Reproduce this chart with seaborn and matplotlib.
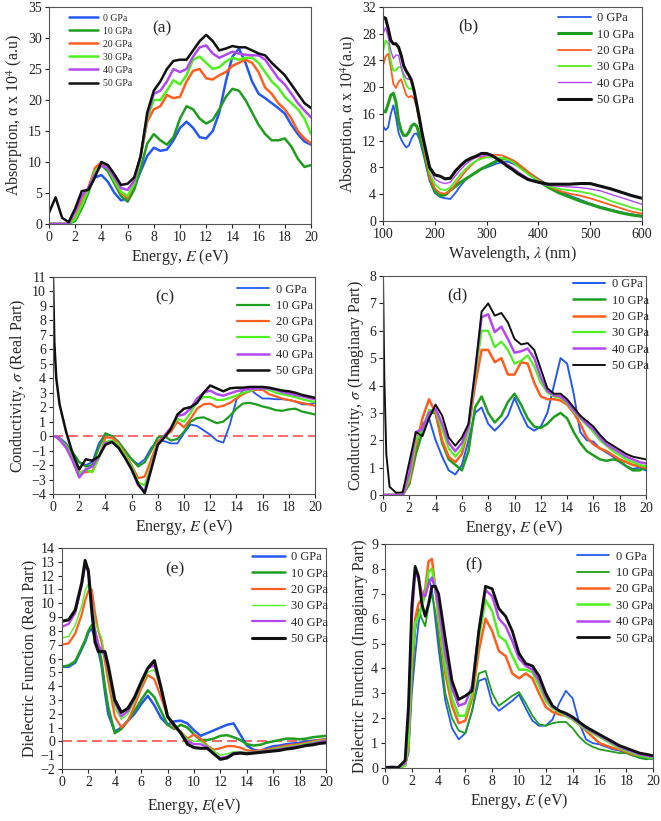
import numpy as np
import pandas as pd
import matplotlib
matplotlib.use("Agg")
import matplotlib.pyplot as plt
import seaborn as sns

sns.set_theme(style="ticks")
plt.rcParams["font.family"] = ["Liberation Serif", "DejaVu Serif"]
plt.rcParams["mathtext.fontset"] = "stix"

LABELS = ["0 GPa", "10 GPa", "20 GPa", "30 GPa", "40 GPa", "50 GPa"]
COLORS = ["#2458f0", "#1e9e1e", "#ff5e1f", "#4ff020", "#b347f2", "#101010"]

# ---------------- (a) absorption vs energy ----------------
E_A = [0, 0.5, 1, 1.5, 2, 2.5, 3, 3.5, 4, 4.5, 5, 5.5, 6, 6.5, 7, 7.5, 8, 8.5, 9, 9.5, 10,
       10.5, 11, 11.5, 12, 12.5, 13, 13.5, 14, 14.5, 15, 15.5, 16, 16.5, 17, 17.5, 18, 18.5, 19, 19.5, 20]
a_0 = [0, 0, 0, 0, 0.8, 3.3, 5.5, 7.5, 7.9, 6.8, 5.0, 3.8, 4.2, 6.0, 8.5, 11.0, 12.3, 11.8, 12.0, 13.5, 15.5,
       16.5, 15.5, 14.0, 13.8, 15.0, 18.0, 23.0, 27.0, 28.3, 26.0, 23.0, 21.0, 20.3, 19.5, 18.7, 17.8, 16.0, 14.5, 13.3, 12.8]
a_10 = [0, 0, 0, 0, 0.5, 2.5, 5.0, 8.0, 9.5, 8.5, 6.5, 4.5, 3.6, 5.5, 9.0, 13.0, 14.5, 13.5, 12.8, 14.0, 17.0,
        19.0, 18.5, 17.0, 16.2, 16.8, 18.5, 20.5, 21.8, 21.5, 20.0, 18.0, 16.0, 14.5, 13.5, 13.5, 13.8, 12.5, 10.5, 9.2, 9.5]
a_20 = [0, 0, 0, 0, 1.0, 3.5, 5.8, 9.0, 10.0, 9.0, 7.0, 5.0, 4.2, 6.5, 11.0, 16.5, 18.5, 19.0, 20.8, 20.3, 20.5,
        23.0, 24.7, 25.0, 23.5, 23.3, 24.0, 24.5, 25.5, 26.0, 26.5, 26.0, 24.5, 22.0, 21.0, 19.5, 18.5, 17.0, 15.0, 13.8, 13.0]
a_30 = [0, 0, 0, 0, 0.8, 3.0, 5.5, 8.5, 9.5, 9.0, 7.0, 5.2, 4.5, 6.5, 11.0, 17.0, 20.0, 20.0, 21.5, 23.2, 22.5,
        24.0, 26.5, 27.0, 26.0, 25.0, 25.3, 26.2, 26.8, 26.5, 26.8, 26.8, 26.0, 24.5, 23.0, 22.0, 20.5, 19.5, 18.5, 17.0, 14.5]
a_40 = [0, 0, 0, 0, 2.0, 4.5, 5.8, 8.0, 9.5, 9.0, 7.5, 5.8, 5.5, 7.0, 11.0, 17.5, 21.0, 21.5, 23.0, 25.0, 24.5,
        25.0, 27.0, 28.5, 28.8, 27.5, 26.8, 27.3, 27.8, 27.5, 27.3, 27.2, 27.2, 26.5, 25.0, 23.5, 22.5, 21.0, 19.5, 18.3, 17.2]
a_50 = [1.8, 4.3, 1.0, 0.3, 2.5, 5.3, 5.5, 7.5, 10.0, 9.5, 8.0, 6.3, 6.5, 7.5, 11.0, 18.0, 21.5, 23.0, 25.0, 26.3, 26.5,
        26.5, 28.0, 29.5, 30.5, 29.5, 28.0, 28.3, 28.7, 28.5, 28.5, 28.0, 27.5, 27.2, 26.0, 25.0, 24.0, 22.5, 21.0, 19.5, 18.7]

# ---------------- (b) absorption vs wavelength ----------------
LAM = [100, 105, 110, 115, 120, 125, 130, 135, 140, 145, 150, 155, 160, 165, 170, 175, 180,
       190, 200, 210, 220, 230, 240, 250, 260, 270, 280, 290, 300, 310, 320, 330, 340, 350, 360,
       380, 400, 420, 440, 460, 480, 500, 520, 540, 560, 580, 600]
b_0 = [14.2, 13.6, 14.0, 16.0, 17.3, 15.5, 13.2, 12.2, 11.5, 11.0, 11.3, 12.3, 13.0, 13.1, 12.3, 10.8, 9.3,
       6.0, 4.2, 3.6, 3.4, 3.3, 4.2, 5.3, 6.2, 6.8, 7.3, 7.8, 8.0, 8.3, 8.6, 8.8, 8.9, 8.6, 8.2,
       7.3, 6.3, 5.3, 4.5, 3.8, 3.2, 2.6, 2.1, 1.7, 1.3, 1.0, 0.8]
b_10 = [16.5, 16.3, 17.5, 18.8, 19.1, 17.8, 15.0, 13.5, 12.8, 12.8, 13.3, 14.2, 14.5, 14.2, 13.0, 11.5, 10.0,
        6.5, 4.5, 3.8, 3.9, 4.6, 5.2, 5.8, 6.3, 6.8, 7.3, 7.8, 8.2, 8.6, 9.0, 9.3, 9.3, 9.0, 8.5,
        7.2, 6.0, 5.0, 4.2, 3.6, 3.0, 2.5, 2.0, 1.6, 1.2, 0.9, 0.7]
b_20 = [23.2, 24.6, 25.0, 23.0, 20.5, 19.9, 20.8, 21.2, 20.0, 18.8, 18.5, 18.7, 18.3, 17.0, 14.8, 12.5, 10.5,
        6.5, 4.9, 4.2, 4.1, 4.5, 5.5, 6.5, 7.5, 8.3, 9.0, 9.5, 9.8, 9.9, 9.9, 9.8, 9.5, 9.1, 8.6,
        7.4, 6.2, 5.2, 4.5, 4.1, 3.8, 3.4, 2.9, 2.4, 1.9, 1.4, 1.1]
b_30 = [25.3, 27.0, 26.5, 24.0, 22.5, 22.5, 23.0, 23.0, 21.5, 20.3, 19.8, 19.8, 19.5, 17.5, 15.0, 12.8, 11.0,
        7.2, 5.5, 4.8, 4.6, 5.0, 6.0, 7.0, 7.8, 8.5, 9.0, 9.3, 9.5, 9.5, 9.5, 9.4, 9.2, 8.8, 8.2,
        7.0, 6.0, 5.2, 4.8, 4.6, 4.4, 4.1, 3.6, 3.0, 2.5, 2.0, 1.6]
b_40 = [28.0, 28.9, 27.5, 25.5, 24.3, 24.8, 24.8, 23.0, 22.0, 21.3, 21.2, 21.3, 19.5, 17.5, 15.5, 13.0, 11.3,
        7.8, 6.3, 5.8, 5.6, 5.8, 6.8, 7.7, 8.5, 9.1, 9.5, 9.7, 9.8, 9.7, 9.4, 9.0, 8.5, 8.0, 7.4,
        6.4, 5.7, 5.3, 5.2, 5.1, 5.0, 4.8, 4.5, 4.0, 3.5, 3.0, 2.5]
b_50 = [30.5, 30.3, 28.8, 27.0, 26.5, 26.5, 26.0, 24.8, 23.2, 22.4, 21.8, 21.0, 19.5, 17.5, 15.5, 13.3, 11.5,
        8.0, 6.9, 6.7, 6.3, 6.4, 7.5, 8.3, 9.0, 9.4, 9.7, 10.1, 10.1, 9.8, 9.3, 8.8, 8.2, 7.7, 7.1,
        6.2, 5.8, 5.5, 5.5, 5.5, 5.6, 5.6, 5.2, 4.8, 4.3, 3.8, 3.4]

# ---------------- (c) conductivity real / (d) imaginary ----------------
E_CD = [0, 0.1, 0.25, 0.5, 1, 1.5, 2, 2.5, 3, 3.5, 4, 4.5, 5, 5.5, 6, 6.5, 7, 7.5, 8, 8.5, 9, 9.5, 10,
        10.5, 11, 11.5, 12, 12.5, 13, 13.5, 14, 14.5, 15, 15.5, 16, 16.5, 17, 17.5, 18, 18.5, 19, 19.5, 20]
c_0 = [0, 0, -0.02, -0.1, -0.5, -1.2, -1.8, -2.0, -1.8, -0.5, 0.15, 0.0, -0.4, -1.0, -1.6, -1.95, -1.6, -0.8, -0.3,
       -0.35, -0.5, -0.5, 0.2, 0.8, 0.7, 0.4, 0.1, -0.3, -0.45, 0.8, 2.5, 3.2, 3.3, 2.9, 2.6, 2.6, 2.55, 2.55, 2.5,
       2.4, 2.2, 2.2, 2.3]
c_10 = [0, 0, -0.05, -0.2, -0.6, -1.1, -1.8, -2.1, -2.0, -0.8, 0.2, 0.0, -0.4, -1.0, -1.6, -2.1, -1.8, -1.0, -0.1,
        0.0, -0.3, -0.2, 0.3, 1.0, 1.25, 1.3, 1.1, 0.9, 1.0, 1.4, 1.9, 2.25, 2.3, 2.2, 2.05, 1.95, 1.8, 1.75, 1.85,
        1.9, 1.7, 1.6, 1.5]
c_20 = [0, 0, -0.05, -0.2, -0.7, -1.5, -2.5, -2.5, -2.4, -1.5, -0.1, -0.1, -0.5, -1.2, -2.0, -2.9, -2.8, -1.6, -0.4,
        0.0, 0.3, 1.0, 0.6, 1.2, 1.9, 2.2, 2.25, 2.0, 2.1, 2.3, 2.6, 2.9, 3.1, 3.2, 3.2, 2.9, 2.75, 2.6, 2.5,
        2.4, 2.3, 2.2, 2.1]
c_30 = [0, 0, -0.05, -0.2, -0.7, -1.5, -2.6, -2.3, -2.5, -1.5, -0.4, -0.3, -0.6, -1.3, -2.1, -3.2, -3.4, -2.0, -0.6,
        0.0, 0.5, 1.2, 1.0, 1.6, 2.4, 2.7, 2.7, 2.5, 2.5, 2.65, 2.8, 3.0, 3.1, 3.3, 3.3, 3.2, 3.0, 2.9, 2.8,
        2.7, 2.55, 2.45, 2.35]
c_40 = [0, 0, -0.05, -0.25, -0.8, -1.7, -2.85, -2.3, -2.1, -1.4, -0.5, -0.4, -0.8, -1.5, -2.3, -3.4, -3.8, -2.2, -0.6,
        0.0, 0.6, 1.4, 1.5, 1.9, 2.6, 3.0, 3.15, 2.9, 2.8, 2.95, 3.1, 3.2, 3.25, 3.3, 3.3, 3.3, 3.2, 3.05, 2.95,
        2.85, 2.75, 2.65, 2.55]
c_50 = [11.0, 6.5, 4.0, 2.2, 0.3, -1.2, -2.3, -1.6, -1.7, -1.4, -0.6, -0.4, -0.8, -1.5, -2.3, -3.3, -3.95, -2.3, -0.6,
        -0.1, 0.5, 1.5, 1.9, 2.0, 2.3, 3.0, 3.5, 3.3, 3.1, 3.3, 3.35, 3.35, 3.4, 3.4, 3.4, 3.35, 3.25, 3.15, 3.1,
        3.0, 2.85, 2.75, 2.65]

d_0 = [0, 0, 0, 0, 0, 0, 0.5, 1.8, 2.6, 2.8, 2.0, 1.4, 0.9, 0.75, 1.1, 2.0, 3.0, 3.2, 2.6, 2.35, 2.6, 2.9, 3.55,
       3.0, 2.5, 2.35, 2.5, 3.0, 4.0, 5.0, 4.8, 3.7, 2.3, 2.0, 1.95, 1.7, 1.55, 1.4, 1.2, 1.05, 0.95, 1.0, 0.9]
d_10 = [0, 0, 0, 0, 0, 0, 0.4, 1.5, 2.3, 3.0, 3.0, 1.9, 1.3, 1.1, 0.9, 1.6, 3.2, 3.6, 3.0, 2.65, 2.9, 3.4, 3.7,
        3.3, 2.8, 2.5, 2.45, 2.6, 2.85, 3.0, 2.8, 2.3, 1.9, 1.6, 1.45, 1.3, 1.25, 1.3, 1.25, 1.05, 0.9, 0.9, 1.0]
d_20 = [0, 0, 0, 0, 0, 0, 0.5, 1.8, 2.8, 3.5, 3.0, 2.0, 1.4, 1.2, 1.5, 2.4, 4.0, 5.3, 5.3, 4.85, 5.0, 4.4, 4.4,
        4.85, 4.8, 4.1, 3.6, 3.5, 3.5, 3.45, 3.3, 3.0, 2.6, 2.1, 1.85, 1.7, 1.6, 1.45, 1.3, 1.2, 1.1, 1.05, 1.0]
d_30 = [0, 0, 0, 0, 0, 0, 0.6, 2.0, 2.4, 3.1, 3.1, 2.4, 1.7, 1.4, 1.7, 2.4, 4.3, 6.0, 6.0, 5.4, 5.6, 5.3, 4.8,
        4.9, 5.1, 4.7, 4.1, 3.75, 3.6, 3.55, 3.35, 3.05, 2.8, 2.55, 2.3, 2.0, 1.8, 1.6, 1.45, 1.3, 1.2, 1.1, 1.05]
d_40 = [0, 0, 0, 0, 0, 0, 0.8, 2.3, 2.4, 3.0, 3.15, 2.6, 1.9, 1.6, 1.9, 2.5, 4.5, 6.5, 6.6, 5.95, 6.15, 5.7, 5.2,
        5.25, 5.35, 5.0, 4.3, 3.8, 3.65, 3.6, 3.4, 3.1, 2.85, 2.6, 2.4, 2.1, 1.85, 1.7, 1.55, 1.4, 1.3, 1.2, 1.15]
d_50 = [8.0, 4.3, 1.5, 0.3, 0.08, 0.1, 1.2, 2.3, 2.15, 2.8, 3.3, 2.9, 2.1, 1.8, 2.1, 2.6, 4.5, 6.7, 7.0, 6.55, 6.65,
        6.3, 5.7, 5.5, 5.55, 5.3, 4.6, 3.9, 3.7, 3.7, 3.5, 3.2, 2.9, 2.7, 2.5, 2.2, 1.95, 1.8, 1.65, 1.5, 1.4, 1.35, 1.3]

# ---------------- (e) dielectric real ----------------
E_E = [0, 0.5, 1, 1.5, 1.75, 2, 2.25, 2.5, 2.75, 3, 3.25, 3.5, 4, 4.5, 5, 5.5, 6, 6.5, 7, 7.5, 8, 8.5, 9, 9.5,
       10, 10.5, 11, 11.5, 12, 12.5, 13, 13.5, 14, 14.5, 15, 15.5, 16, 16.5, 17, 17.5, 18, 18.5, 19, 19.5, 20]
e_0 = [5.4, 5.4, 5.7, 6.7, 7.2, 7.9, 8.2, 7.5, 6.6, 5.5, 3.6, 2.0,
       0.7, 1.0, 1.5, 2.0, 2.7, 3.3, 2.6, 1.7, 1.2, 1.45, 1.5, 1.3, 0.8, 0.4, 0.6, 0.8, 1.0, 1.2, 1.3, 0.5, -0.3,
       -0.6, -0.7, -0.5, -0.35, -0.3, -0.2, -0.15, -0.1, 0.0, 0.05, 0.1, 0.15]
e_10 = [5.4, 5.5, 5.8, 6.8, 7.3, 8.0, 8.4, 8.0, 7.0, 5.8, 4.0, 2.5,
        0.6, 0.9, 1.5, 2.2, 3.0, 3.7, 3.2, 2.2, 1.2, 0.9, 1.2, 1.0, 0.5, 0.1, 0.1, 0.2, 0.4, 0.45, 0.3, 0.1, -0.2,
        -0.3, -0.25, -0.1, 0.0, 0.1, 0.2, 0.2, 0.15, 0.2, 0.3, 0.35, 0.4]
e_20 = [7.0, 7.1, 7.8, 9.2, 10.2, 10.9, 11.0, 9.3, 8.0, 7.2, 5.8, 4.4,
        1.8, 1.0, 1.5, 2.6, 3.8, 4.8, 4.5, 3.2, 1.8, 1.0, 0.7, 0.2, 0.5, 0.2, -0.3, -0.6, -0.5, -0.35, -0.35, -0.45,
        -0.65, -0.7, -0.65, -0.6, -0.5, -0.4, -0.3, -0.25, -0.2, -0.1, 0.0, 0.1, 0.15]
e_30 = [7.5, 7.6, 8.4, 9.8, 10.9, 11.4, 10.2, 8.8, 8.0, 7.5, 6.2, 4.8,
        2.4, 1.6, 2.0, 2.9, 4.0, 5.0, 5.2, 3.7, 1.8, 1.1, 0.7, 0.2, 0.0, 0.0, -0.3, -0.7, -1.0, -0.9, -0.75, -0.75,
        -0.8, -0.75, -0.7, -0.65, -0.55, -0.45, -0.4, -0.3, -0.25, -0.15, -0.05, 0.05, 0.1]
e_40 = [8.3, 8.5, 9.3, 11.3, 12.7, 12.5, 10.0, 8.0, 7.0, 6.6, 6.2, 5.2,
        2.8, 1.8, 2.2, 3.1, 4.2, 5.3, 5.5, 3.8, 1.8, 1.1, 0.6, 0.0, -0.2, -0.2, -0.4, -0.9, -1.2, -1.1, -0.85, -0.8,
        -0.85, -0.8, -0.75, -0.7, -0.65, -0.55, -0.5, -0.4, -0.35, -0.25, -0.15, -0.05, 0.05]
e_50 = [8.7, 8.8, 9.5, 11.5, 13.1, 12.3, 9.5, 7.2, 6.5, 6.5, 6.5, 5.5,
        3.0, 2.1, 2.4, 3.2, 4.3, 5.3, 5.85, 3.9, 1.8, 1.2, 0.6, -0.2, -0.45, -0.5, -0.5, -0.9, -1.3, -1.2, -0.9,
        -0.85, -0.9, -0.85, -0.8, -0.75, -0.7, -0.65, -0.55, -0.5, -0.4, -0.3, -0.25, -0.15, -0.1]

# ---------------- (f) dielectric imaginary ----------------
E_F = [0, 0.5, 1, 1.5, 1.75, 2, 2.25, 2.5, 2.75, 3, 3.25, 3.5, 3.75, 4, 4.5, 5, 5.5, 6, 6.5, 7, 7.5, 8, 8.5, 9,
       9.5, 10, 10.5, 11, 11.5, 12, 12.5, 13, 13.5, 14, 14.5, 15, 15.5, 16, 16.5, 17, 17.5, 18, 18.5, 19, 19.5, 20]
f_0 = [0.02, 0.06, 0.03, 0.1, 0.6, 3.0, 4.5, 5.8, 6.6, 7.2, 7.6, 7.2, 6.0,
       4.8, 2.7, 1.6, 1.15, 1.4, 2.3, 3.5, 3.6, 2.6, 2.3, 2.5, 2.7, 2.95, 2.4, 1.9, 1.7, 1.7, 1.95, 2.6, 3.1,
       2.8, 1.8, 1.15, 1.0, 0.95, 0.85, 0.75, 0.7, 0.6, 0.5, 0.45, 0.4, 0.35]
f_10 = [0, 0, 0, 0.1, 0.7, 3.5, 5.5, 6.4, 6.0, 5.7, 6.5, 7.0, 6.3,
        5.3, 3.0, 2.0, 1.5, 1.4, 2.3, 3.8, 3.9, 3.0, 2.5, 2.7, 2.9, 3.05, 2.6, 2.1, 1.75, 1.7, 1.8, 1.85, 1.85,
        1.6, 1.25, 1.0, 0.85, 0.75, 0.7, 0.65, 0.6, 0.6, 0.5, 0.4, 0.35, 0.4]
f_20 = [0, 0, 0, 0.1, 0.8, 4.0, 6.0, 6.6, 6.8, 7.2, 8.3, 8.4, 7.3,
        6.0, 3.8, 2.5, 1.8, 1.9, 2.8, 4.7, 6.0, 5.5, 4.7, 4.5, 3.8, 3.6, 3.8, 3.6, 3.0, 2.45, 2.25, 2.15, 2.1,
        1.95, 1.75, 1.5, 1.25, 1.0, 0.9, 0.8, 0.75, 0.65, 0.55, 0.5, 0.45, 0.4]
f_30 = [0, 0, 0, 0.1, 1.0, 4.5, 5.8, 6.1, 6.5, 7.0, 7.9, 8.0, 7.3,
        6.2, 4.1, 2.8, 2.1, 2.1, 3.0, 5.2, 6.75, 6.3, 5.3, 5.1, 4.5, 3.95, 3.95, 3.85, 3.3, 2.7, 2.4, 2.25, 2.1,
        1.95, 1.75, 1.55, 1.4, 1.25, 1.1, 0.95, 0.8, 0.7, 0.6, 0.5, 0.45, 0.4]
f_40 = [0.03, 0.03, 0.03, 0.2, 2.0, 6.0, 7.9, 7.6, 7.0, 6.9, 7.4, 7.65, 7.2,
        6.5, 4.6, 3.2, 2.5, 2.6, 3.3, 5.5, 7.15, 6.9, 6.0, 5.7, 5.1, 4.4, 4.1, 3.95, 3.5, 2.85, 2.45, 2.3, 2.15,
        2.0, 1.8, 1.6, 1.45, 1.3, 1.15, 1.0, 0.85, 0.75, 0.65, 0.55, 0.5, 0.45]
f_50 = [0.03, 0.03, 0.03, 0.3, 2.5, 6.5, 8.1, 7.7, 6.6, 6.1, 6.6, 7.3, 7.3,
        7.0, 5.2, 3.5, 2.75, 2.9, 3.1, 5.5, 7.3, 7.2, 6.4, 6.1, 5.5, 4.6, 4.2, 4.1, 3.7, 3.0, 2.5, 2.3, 2.2,
        2.05, 1.85, 1.65, 1.5, 1.35, 1.2, 1.05, 0.9, 0.8, 0.7, 0.6, 0.55, 0.5]

W, H = 661, 821
fig = plt.figure(figsize=(W / 100, H / 100), dpi=100)


def mkax(l, t, r, b):
    return fig.add_axes([l / W, 1 - b / H, (r - l) / W, (b - t) / H])


def draw(ax, x, ys, widths):
    for lab, y, c, lw in zip(LABELS, ys, COLORS, widths):
        df = pd.DataFrame({"x": x, "y": y})
        sns.lineplot(data=df, x="x", y="y", ax=ax, color=c, linewidth=lw,
                     label=lab, sort=False, estimator=None)


def style(ax, xlim, xticks, ylim, yticks, xlabel, ylabel, tag, tagpos, legpos,
          ylpad=2, xlpad=2, legsp=0.35, legfs=9, leghl=2.6):
    ax.set_xlim(*xlim)
    ax.set_ylim(*ylim)
    ax.set_xticks(xticks)
    ax.set_yticks(yticks)
    ax.tick_params(direction="out", length=3, width=0.8, labelsize=10, pad=2,
                   colors="#222222")
    for s in ax.spines.values():
        s.set_linewidth(0.8)
        s.set_color("#555555")
    ax.set_xlabel(xlabel, fontsize=11.5, labelpad=xlpad)
    ax.set_ylabel(ylabel, fontsize=11.5, labelpad=ylpad)
    ax.text(tagpos[0], tagpos[1], tag, transform=ax.transAxes, fontsize=12.5,
            ha="center", va="center")
    ax.legend(loc="upper left", bbox_to_anchor=legpos, frameon=False,
              fontsize=legfs, handlelength=leghl, handletextpad=0.5,
              labelspacing=legsp, borderpad=0, borderaxespad=0)


# (a)
axa = mkax(49, 7, 311, 224)
draw(axa, E_A, [a_0, a_10, a_20, a_30, a_40, a_50], [1.8] * 6)
style(axa, (0, 20), range(0, 21, 2), (0, 35), range(0, 36, 5),
      "Energy, $E$ (eV)", "Absorption, α x 10$^4$ (a.u)", "(a)", (0.43, 0.9),
      (0.076, 0.97), legsp=0.42, legfs=7, leghl=3.0)

# (b)
axb = mkax(383, 7, 642, 221)
draw(axb, LAM, [b_0, b_10, b_20, b_30, b_40, b_50], [1.3, 2.2, 1.3, 1.3, 1.0, 2.2])
style(axb, (100, 600), range(100, 601, 100), (0, 32), range(0, 33, 4),
      "Wavelength, $\\lambda$ (nm)", "Absorption, α x 10$^4$(a.u)", "(b)", (0.33, 0.91),
      (0.676, 0.975))

# (c)
axc = mkax(53, 277, 315, 494)
axc.axhline(0, color="#ff5050", lw=1.2, ls=(0, (6, 3)), zorder=1)
draw(axc, E_CD, [c_0, c_10, c_20, c_30, c_40, c_50], [1.3, 1.6, 1.6, 1.6, 1.8, 1.8])
style(axc, (0, 20), range(0, 21, 2), (-4, 11), range(-4, 12, 1),
      "Energy, $E$ (eV)", "Conductivity, $\\sigma$ (Real Part)", "(c)", (0.427, 0.905),
      (0.702, 0.97))

# (d)
axd = mkax(383, 276, 646, 495)
draw(axd, E_CD, [d_0, d_10, d_20, d_30, d_40, d_50], [1.4, 1.8, 1.8, 1.6, 1.8, 1.4])
style(axd, (0, 20), range(0, 21, 2), (0, 8), range(0, 9, 1),
      "Energy, $E$ (eV)", "Conductivity, $\\sigma$ (Imaginary Part)", "(d)", (0.284, 0.913),
      (0.722, 0.99))

# (e)
axe = mkax(62, 548, 326, 769)
axe.axhline(0, color="#ff5050", lw=1.2, ls=(0, (6, 3)), zorder=1)
draw(axe, E_E, [e_0, e_10, e_20, e_30, e_40, e_50], [1.8, 1.8, 1.6, 1.0, 1.6, 2.2])
style(axe, (0, 20), range(0, 21, 2), (-2, 14), range(-2, 15, 1),
      "Energy, $E$(eV)", "Dielectric Function (Real Part)", "(e)", (0.427, 0.905),
      (0.72, 0.985), xlpad=5)

# (f)
axf = mkax(385, 544, 653, 768)
draw(axf, E_F, [f_0, f_10, f_20, f_30, f_40, f_50], [1.3, 1.3, 1.8, 1.8, 1.8, 2.0])
style(axf, (0, 20), range(0, 21, 2), (0, 9), range(0, 10, 1),
      "Energy, $E$ (eV)", "Dielectric Function (Imaginary Part)", "(f)", (0.331, 0.903),
      (0.716, 0.97))

fig.savefig("out.png", dpi=100)
